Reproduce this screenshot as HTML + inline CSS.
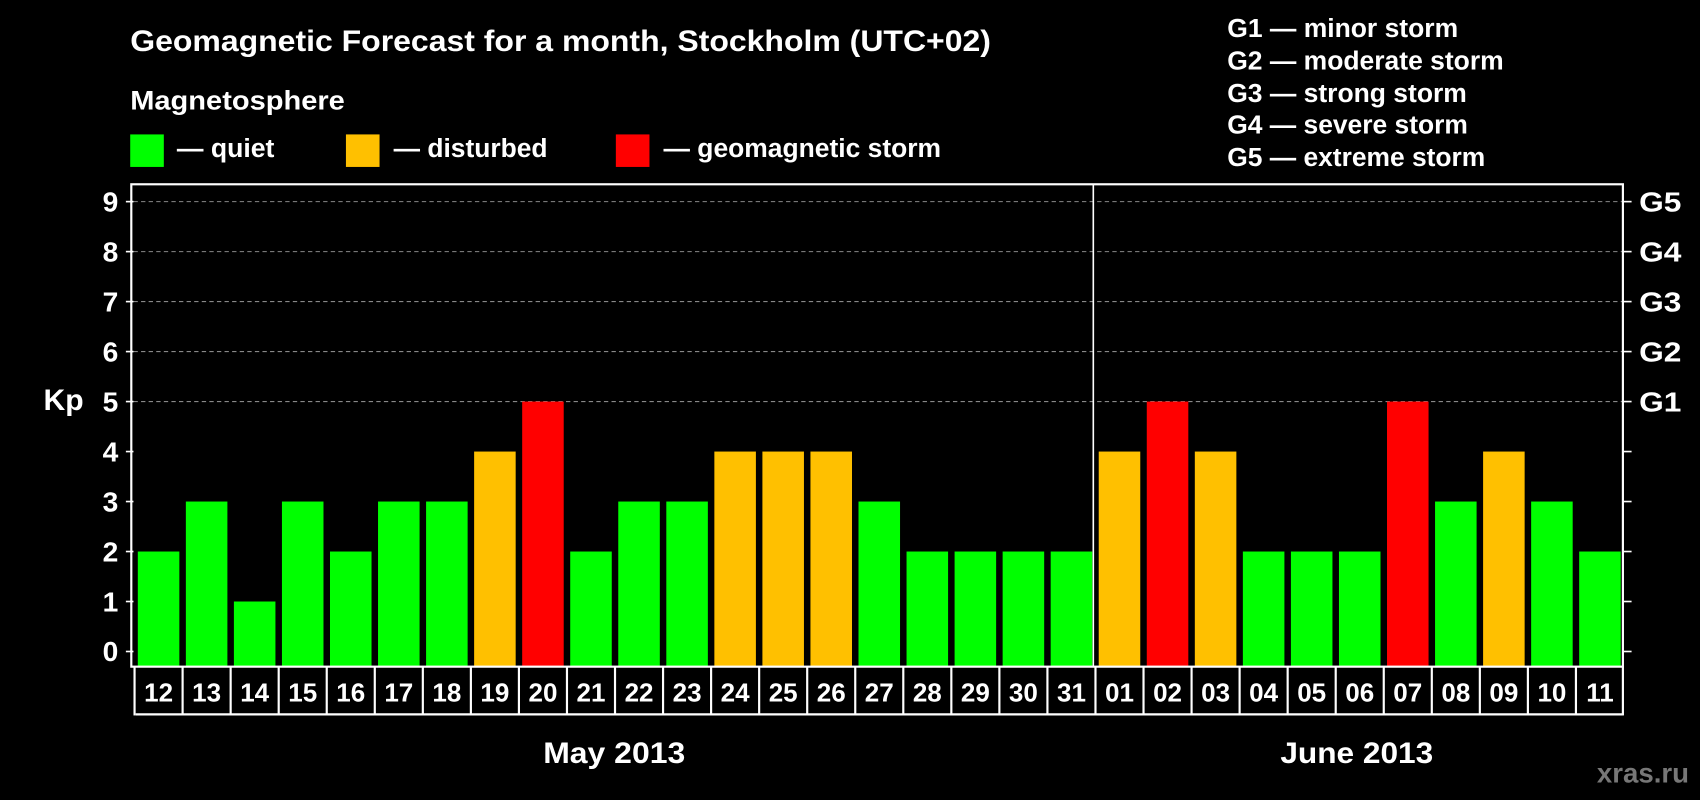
<!DOCTYPE html>
<html><head><meta charset="utf-8"><style>
html,body{margin:0;padding:0;background:#000;width:1700px;height:800px;overflow:hidden}
svg{display:block}
text{font-family:"Liberation Sans",Arial,sans-serif;font-weight:bold;fill:#fff}
</style></head><body>
<svg id="chart" width="1700" height="800" viewBox="0 0 1568 738" xmlns="http://www.w3.org/2000/svg">
<rect x="0" y="0" width="1568" height="738" fill="#000"/>
<text x="120" y="47" font-size="27" textLength="794" lengthAdjust="spacingAndGlyphs">Geomagnetic Forecast for a month, Stockholm (UTC+02)</text>
<text x="120" y="101" font-size="25" textLength="198" lengthAdjust="spacingAndGlyphs">Magnetosphere</text>
<g><rect x="120" y="124" width="31" height="30" fill="#00ff00"/><text x="163" y="145" font-size="24" textLength="90" lengthAdjust="spacingAndGlyphs">— quiet</text></g>
<g><rect x="319" y="124" width="31" height="30" fill="#ffc000"/><text x="363" y="145" font-size="24" textLength="142" lengthAdjust="spacingAndGlyphs">— disturbed</text></g>
<g><rect x="568" y="124" width="31" height="30" fill="#ff0000"/><text x="612" y="145" font-size="24" textLength="256" lengthAdjust="spacingAndGlyphs">— geomagnetic storm</text></g>
<g font-size="24">
<text x="1132" y="34" textLength="213" lengthAdjust="spacingAndGlyphs">G1 — minor storm</text>
<text x="1132" y="64" textLength="255" lengthAdjust="spacingAndGlyphs">G2 — moderate storm</text>
<text x="1132" y="94" textLength="221" lengthAdjust="spacingAndGlyphs">G3 — strong storm</text>
<text x="1132" y="123" textLength="222" lengthAdjust="spacingAndGlyphs">G4 — severe storm</text>
<text x="1132" y="153" textLength="238" lengthAdjust="spacingAndGlyphs">G5 — extreme storm</text>
</g>
<text x="40" y="378" font-size="27" textLength="37" lengthAdjust="spacingAndGlyphs">Kp</text>
<g id="grid"></g><g id="bars"></g><g id="axes"></g>
<text x="501" y="704" font-size="27" textLength="131" lengthAdjust="spacingAndGlyphs">May 2013</text>
<text x="1181" y="704" font-size="27" textLength="141" lengthAdjust="spacingAndGlyphs">June 2013</text>
<text x="1473" y="722" font-size="26" textLength="85" lengthAdjust="spacingAndGlyphs" style="fill:#777">xras.ru</text>
</svg>
<script>
const days = ["12","13","14","15","16","17","18","19","20","21","22","23","24","25","26","27","28","29","30","31","01","02","03","04","05","06","07","08","09","10","11"];
const kpValues = [2,3,1,3,2,3,3,4,5,2,3,3,4,4,4,3,2,2,2,2,4,5,4,2,2,2,5,3,4,3,2];
const yTicks = [0,1,2,3,4,5,6,7,8,9];
const gLabels = ["G1","G2","G3","G4","G5"];
const gLevels = [5,6,7,8,9];
const NS="http://www.w3.org/2000/svg";
const L=123,R=1497,T=170,B=615,Y0=601,Y9=186;
const y=v=>Y0-(Y0-Y9)*v/9;
const slot=(R-L)/days.length;
const xs=i=>L+i*slot;
function mk(tag,attrs,parent){const e=document.createElementNS(NS,tag);for(const k in attrs)e.setAttribute(k,attrs[k]);parent.appendChild(e);return e;}
const grid=document.getElementById('grid'),bars=document.getElementById('bars'),axes=document.getElementById('axes');
yTicks.forEach(v=>{
  if(v>=5){const l=mk('line',{x1:L,x2:R,y1:y(v),y2:y(v),stroke:'#888','stroke-dasharray':'4,3','stroke-width':1},grid);
  
  }
  mk('line',{x1:L-7,x2:L,y1:y(v),y2:y(v),stroke:'#fff','stroke-width':1.5},axes);
  mk('line',{x1:R,x2:R+8,y1:y(v),y2:y(v),stroke:'#fff','stroke-width':1.5},axes);
  const t=mk('text',{x:L-14,y:y(v)+9,'font-size':26,'text-anchor':'end'},axes);t.textContent=v;
  
  
});
gLabels.forEach((g,i)=>{const t=mk('text',{x:R+15,y:y(gLevels[i])+9,'font-size':26,textLength:39,lengthAdjust:'spacingAndGlyphs'},axes);t.textContent=g;
  
  });
kpValues.forEach((v,i)=>{
  const c=v>=5?'#ff0000':(v>=4?'#ffc000':'#00ff00');
  const r=mk('rect',{x:xs(i)+4,y:y(v),width:slot-6,height:B-y(v),fill:c},bars);
  
  
  const t=mk('text',{x:xs(i)+slot/2+1,y:647,'font-size':24,'text-anchor':'middle'},axes);t.textContent=days[i];
  
  
  mk('line',{x1:xs(i)+1,x2:xs(i)+1,y1:B,y2:660,stroke:'#fff','stroke-width':2},axes);
});
mk('line',{x1:R,x2:R,y1:B,y2:660,stroke:'#fff','stroke-width':2},axes);
mk('line',{x1:L+2,x2:R,y1:659,y2:659,stroke:'#fff','stroke-width':2},axes);
const box=mk('rect',{x:121,y:T,width:R-121,height:B-T,fill:'none',stroke:'#fff','stroke-width':2},axes);


const div=mk('line',{x1:xs(20)-1,x2:xs(20)-1,y1:T,y2:B,stroke:'#fff','stroke-width':1.5},axes);


</script>
</body></html>
